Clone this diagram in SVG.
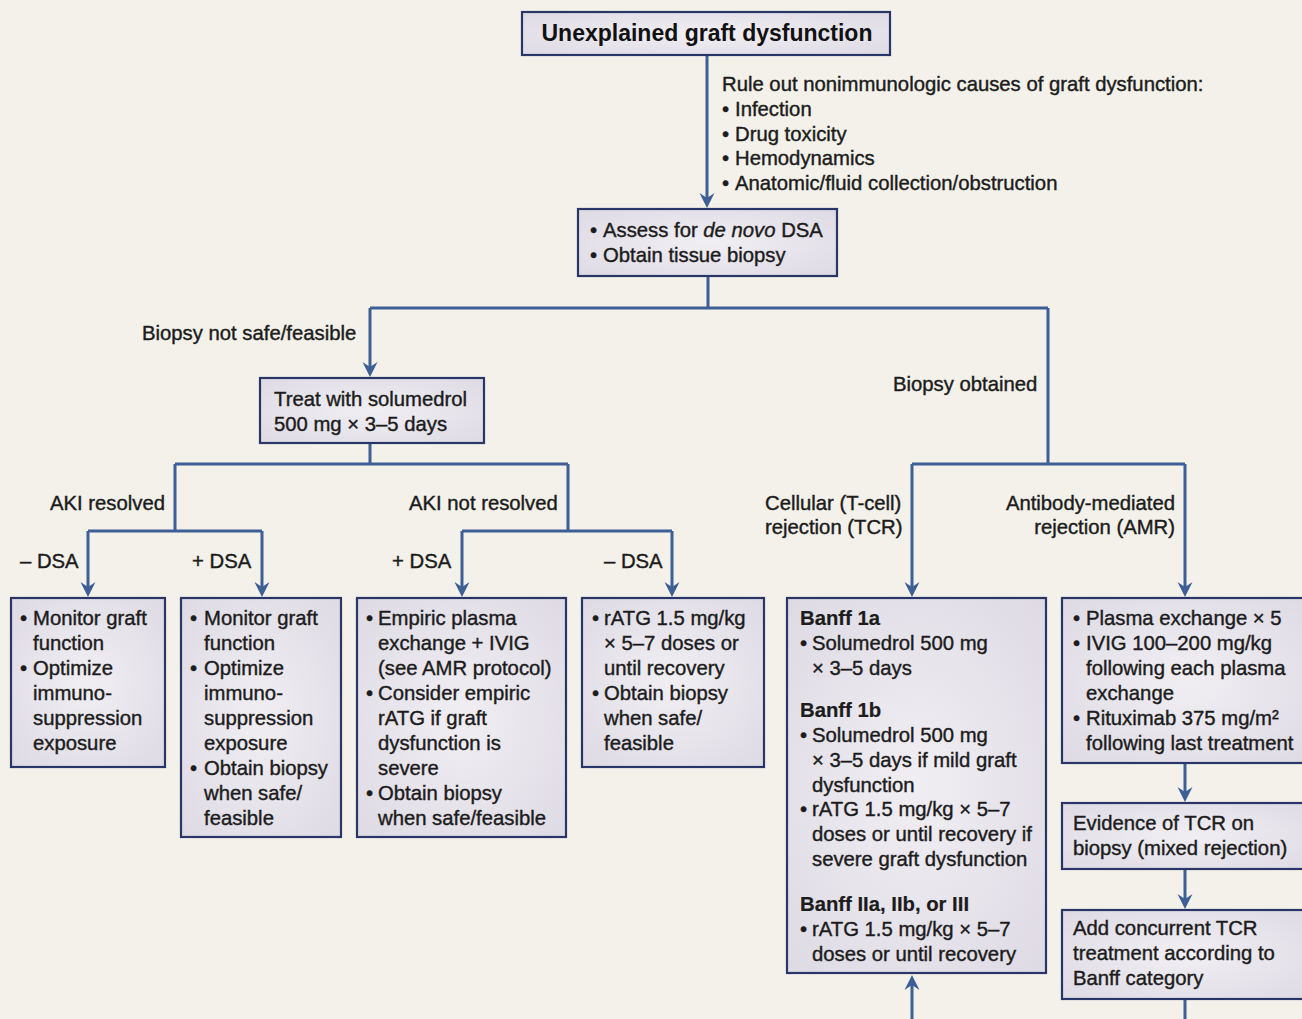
<svg xmlns="http://www.w3.org/2000/svg" width="1302" height="1019" viewBox="0 0 1302 1019">
<defs>
<radialGradient id="bg" cx="50%" cy="50%" r="70%">
<stop offset="0" stop-color="#f1eef3"/>
<stop offset="1" stop-color="#dedae4"/>
</radialGradient>
<marker id="ah" markerWidth="18" markerHeight="18" viewBox="0 0 18 18" refX="12" refY="9" orient="auto" markerUnits="userSpaceOnUse">
<path d="M1,1.5 L6,9 L1,16.5 L16,9 Z" fill="#3d5f95"/>
</marker>
</defs>
<style>
.box{fill:url(#bg);stroke:#2b3668;stroke-width:2.2}
.t{font-family:"Liberation Sans",Arial,sans-serif;font-size:20.3px;fill:#1c1c1c;stroke:#1c1c1c;stroke-width:0.4}
.b{font-weight:bold;stroke-width:0.2}
.title{font-family:"Liberation Sans",Arial,sans-serif;font-size:23px;font-weight:bold;fill:#111}
.c{fill:none;stroke:#3d5f95;stroke-width:3}
.ca{fill:none;stroke:#3d5f95;stroke-width:3;marker-end:url(#ah)}
</style>
<rect width="1302" height="1019" fill="#f3f1ea"/>

<g id="connectors">
<path class="ca" d="M707,55 V204"/>
<path class="c" d="M708,276 V308 M370,308 H1048"/>
<path class="ca" d="M370,308 V373"/>
<path class="c" d="M1048,308 V464 M912,464 H1185"/>
<path class="ca" d="M912,464 V593"/>
<path class="ca" d="M1185,464 V593"/>
<path class="c" d="M370,443 V464 M175,464 H568 M175,464 V531 M88,531 H262 M568,464 V531 M462,531 H672"/>
<path class="ca" d="M88,531 V593"/>
<path class="ca" d="M262,531 V593"/>
<path class="ca" d="M462,531 V593"/>
<path class="ca" d="M672,531 V593"/>
<path class="ca" d="M1185,763 V798"/>
<path class="ca" d="M1185,869 V905"/>
<path class="c" d="M1185,999 V1019"/>
<path class="ca" d="M912,1019 V979"/>
</g>

<g id="n-top">
<rect class="box" x="522" y="12" width="368" height="43"/>
<text class="title" x="707" y="41" text-anchor="middle">Unexplained graft dysfunction</text>
</g>

<g id="rule-out">
<text class="t" x="722" y="91">Rule out nonimmunologic causes of graft dysfunction:</text>
<text class="t" x="722" y="116">•</text><text class="t" x="735" y="116">Infection</text>
<text class="t" x="722" y="141">•</text><text class="t" x="735" y="141">Drug toxicity</text>
<text class="t" x="722" y="165">•</text><text class="t" x="735" y="165">Hemodynamics</text>
<text class="t" x="722" y="190">•</text><text class="t" x="735" y="190">Anatomic/fluid collection/obstruction</text>
</g>

<g id="n-assess">
<rect class="box" x="578" y="209" width="259" height="67"/>
<text class="t" x="590" y="237">•</text><text class="t" x="603" y="237">Assess for <tspan font-style="italic">de novo</tspan> DSA</text>
<text class="t" x="590" y="262">•</text><text class="t" x="603" y="262">Obtain tissue biopsy</text>
</g>

<g id="labels">
<text class="t" x="142" y="340">Biopsy not safe/feasible</text>
<text class="t" x="893" y="391">Biopsy obtained</text>
<text class="t" x="50" y="510">AKI resolved</text>
<text class="t" x="409" y="510">AKI not resolved</text>
<text class="t" x="20" y="568">– DSA</text>
<text class="t" x="192" y="568">+ DSA</text>
<text class="t" x="392" y="568">+ DSA</text>
<text class="t" x="604" y="568">– DSA</text>
<text class="t" x="765" y="510">Cellular (T-cell)</text>
<text class="t" x="765" y="534">rejection (TCR)</text>
<text class="t" x="1175" y="510" text-anchor="end">Antibody-mediated</text>
<text class="t" x="1175" y="534" text-anchor="end">rejection (AMR)</text>
</g>

<g id="n-treat">
<rect class="box" x="260" y="378" width="224" height="65"/>
<text class="t" x="274" y="406">Treat with solumedrol</text>
<text class="t" x="274" y="431">500 mg × 3–5 days</text>
</g>

<g id="n-resolved-neg">
<rect class="box" x="11" y="598" width="154" height="169"/>
<text class="t" x="20" y="625">•</text><text class="t" x="33" y="625">Monitor graft</text>
<text class="t" x="33" y="650">function</text>
<text class="t" x="20" y="675">•</text><text class="t" x="33" y="675">Optimize</text>
<text class="t" x="33" y="700">immuno-</text>
<text class="t" x="33" y="725">suppression</text>
<text class="t" x="33" y="750">exposure</text>
</g>

<g id="n-resolved-pos">
<rect class="box" x="181" y="598" width="160" height="239"/>
<text class="t" x="190" y="625">•</text><text class="t" x="204" y="625">Monitor graft</text>
<text class="t" x="204" y="650">function</text>
<text class="t" x="190" y="675">•</text><text class="t" x="204" y="675">Optimize</text>
<text class="t" x="204" y="700">immuno-</text>
<text class="t" x="204" y="725">suppression</text>
<text class="t" x="204" y="750">exposure</text>
<text class="t" x="190" y="775">•</text><text class="t" x="204" y="775">Obtain biopsy</text>
<text class="t" x="204" y="800">when safe/</text>
<text class="t" x="204" y="825">feasible</text>
</g>

<g id="n-notresolved-pos">
<rect class="box" x="357" y="598" width="209" height="239"/>
<text class="t" x="366" y="625">•</text><text class="t" x="378" y="625">Empiric plasma</text>
<text class="t" x="378" y="650">exchange + IVIG</text>
<text class="t" x="378" y="675">(see AMR protocol)</text>
<text class="t" x="366" y="700">•</text><text class="t" x="378" y="700">Consider empiric</text>
<text class="t" x="378" y="725">rATG if graft</text>
<text class="t" x="378" y="750">dysfunction is</text>
<text class="t" x="378" y="775">severe</text>
<text class="t" x="366" y="800">•</text><text class="t" x="378" y="800">Obtain biopsy</text>
<text class="t" x="378" y="825">when safe/feasible</text>
</g>

<g id="n-notresolved-neg">
<rect class="box" x="582" y="598" width="182" height="169"/>
<text class="t" x="592" y="625">•</text><text class="t" x="604" y="625">rATG 1.5 mg/kg</text>
<text class="t" x="604" y="650">× 5–7 doses or</text>
<text class="t" x="604" y="675">until recovery</text>
<text class="t" x="592" y="700">•</text><text class="t" x="604" y="700">Obtain biopsy</text>
<text class="t" x="604" y="725">when safe/</text>
<text class="t" x="604" y="750">feasible</text>
</g>

<g id="n-tcr">
<rect class="box" x="787" y="598" width="259" height="375"/>
<text class="t b" x="800" y="625">Banff 1a</text>
<text class="t" x="800" y="650">•</text><text class="t" x="812" y="650">Solumedrol 500 mg</text>
<text class="t" x="812" y="675">× 3–5 days</text>
<text class="t b" x="800" y="717">Banff 1b</text>
<text class="t" x="800" y="742">•</text><text class="t" x="812" y="742">Solumedrol 500 mg</text>
<text class="t" x="812" y="767">× 3–5 days if mild graft</text>
<text class="t" x="812" y="792">dysfunction</text>
<text class="t" x="800" y="816">•</text><text class="t" x="812" y="816">rATG 1.5 mg/kg × 5–7</text>
<text class="t" x="812" y="841">doses or until recovery if</text>
<text class="t" x="812" y="866">severe graft dysfunction</text>
<text class="t b" x="800" y="911">Banff IIa, IIb, or III</text>
<text class="t" x="800" y="936">•</text><text class="t" x="812" y="936">rATG 1.5 mg/kg × 5–7</text>
<text class="t" x="812" y="961">doses or until recovery</text>
</g>

<g id="n-amr">
<rect class="box" x="1062" y="598" width="250" height="165"/>
<text class="t" x="1073" y="625">•</text><text class="t" x="1086" y="625">Plasma exchange × 5</text>
<text class="t" x="1073" y="650">•</text><text class="t" x="1086" y="650">IVIG 100–200 mg/kg</text>
<text class="t" x="1086" y="675">following each plasma</text>
<text class="t" x="1086" y="700">exchange</text>
<text class="t" x="1073" y="725">•</text><text class="t" x="1086" y="725">Rituximab 375 mg/m²</text>
<text class="t" x="1086" y="750">following last treatment</text>
</g>

<g id="n-evidence">
<rect class="box" x="1062" y="803" width="250" height="66"/>
<text class="t" x="1073" y="830">Evidence of TCR on</text>
<text class="t" x="1073" y="855">biopsy (mixed rejection)</text>
</g>

<g id="n-add">
<rect class="box" x="1062" y="910" width="250" height="89"/>
<text class="t" x="1073" y="935">Add concurrent TCR</text>
<text class="t" x="1073" y="960">treatment according to</text>
<text class="t" x="1073" y="985">Banff category</text>
</g>
</svg>
